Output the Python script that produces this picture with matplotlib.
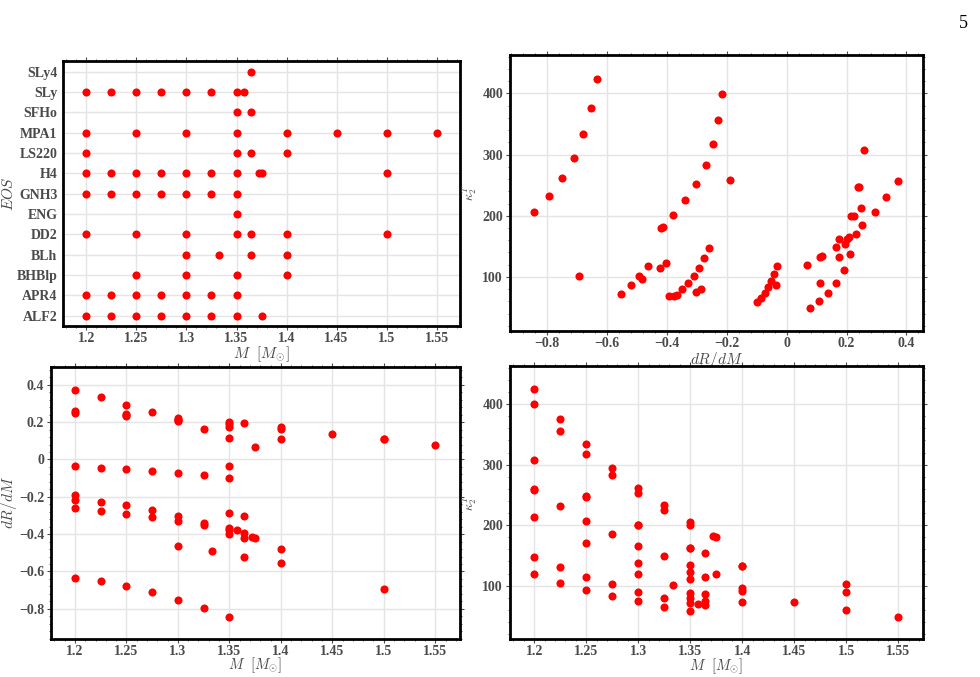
import numpy as np
import matplotlib
matplotlib.use("Agg")
import matplotlib.pyplot as plt
from matplotlib.ticker import AutoMinorLocator

plt.rcParams['font.family'] = ['Liberation Serif', 'DejaVu Serif']
plt.rcParams['mathtext.fontset'] = 'cm'

# EOS categories, bottom to top
eos_names = ['ALF2', 'APR4', 'BHBlp', 'BLh', 'DD2', 'ENG', 'GNH3',
             'H4', 'LS220', 'MPA1', 'SFHo', 'SLy', 'SLy4']

# one entry per simulation
run_eos = (['ALF2'] * 8 + ['APR4'] * 7 + ['BHBlp'] * 4 + ['BLh'] * 4 +
           ['DD2'] * 7 + ['ENG'] + ['GNH3'] * 7 + ['H4'] * 10 +
           ['LS220'] * 4 + ['MPA1'] * 8 + ['SFHo'] * 2 + ['SLy'] * 8 + ['SLy4'])

run_mass = [
    1.2, 1.225, 1.25, 1.275, 1.3, 1.325, 1.35, 1.375,            # ALF2
    1.2, 1.225, 1.25, 1.275, 1.3, 1.325, 1.35,                   # APR4
    1.25, 1.3, 1.35, 1.4,                                        # BHBlp
    1.3, 1.333, 1.364, 1.4,                                      # BLh
    1.2, 1.25, 1.3, 1.35, 1.364, 1.4, 1.5,                       # DD2
    1.35,                                                        # ENG
    1.2, 1.225, 1.25, 1.275, 1.3, 1.325, 1.35,                   # GNH3
    1.2, 1.225, 1.25, 1.275, 1.3, 1.325, 1.35, 1.372, 1.375, 1.5,  # H4
    1.2, 1.35, 1.364, 1.4,                                       # LS220
    1.2, 1.25, 1.3, 1.35, 1.4, 1.45, 1.5, 1.55,                  # MPA1
    1.35, 1.364,                                                 # SFHo
    1.2, 1.225, 1.25, 1.275, 1.3, 1.325, 1.35, 1.357,            # SLy
    1.364,                                                       # SLy4
]

run_drdm = [
    0.373, 0.333, 0.294, 0.252, 0.208, 0.163, 0.117, 0.069,
    -0.034, -0.043, -0.052, -0.062, -0.073, -0.085, -0.100,
    0.238, 0.214, 0.175, 0.111,
    -0.465, -0.492, -0.520, -0.555,
    0.258, 0.243, 0.223, 0.200, 0.195, 0.176, 0.112,
    -0.036,
    -0.635, -0.653, -0.679, -0.712, -0.751, -0.794, -0.843,
    -0.216, -0.228, -0.245, -0.271, -0.303, -0.339, -0.379, -0.415, -0.421, -0.695,
    -0.191, -0.402, -0.423, -0.482,
    0.248, 0.231, 0.211, 0.190, 0.165, 0.138, 0.109, 0.078,
    -0.288, -0.302,
    -0.260, -0.276, -0.292, -0.310, -0.329, -0.350, -0.368, -0.376,
    -0.394,
]

run_kappa = [
    257.6, 231, 207, 184.6, 166, 148.6, 134, 119.6,
    118.5, 105, 93, 83, 74, 65, 58.5,
    247, 200, 162, 132.7,
    118.5, 101, 86.9, 72.7,
    307, 247.8, 200, 162, 153.5, 132.7, 89.7,
    87.4,
    424.5, 376, 334, 294.7, 261, 232.5, 205.8,
    399.5, 356, 317, 283, 252.7, 225.4, 201, 182.3, 180.7, 102,
    259, 122.9, 114.7, 96,
    213, 171, 137.6, 111, 90.7, 73.8, 60, 49,
    80, 75,
    148, 131, 115, 102, 90, 80, 71, 69.5,
    68,
]

m_ticks = [1.2, 1.25, 1.3, 1.35, 1.4, 1.45, 1.5, 1.55]
m_ticklabels = ['1.2', '1.25', '1.3', '1.35', '1.4', '1.45', '1.5', '1.55']
drdm_ticks = [-0.8, -0.6, -0.4, -0.2, 0, 0.2, 0.4]
drdm_ticklabels = ['\u22120.8', '\u22120.6', '\u22120.4', '\u22120.2', '0', '0.2', '0.4']
kappa_ticks = [100, 200, 300, 400]

mass = np.array(run_mass)
drdm = np.array(run_drdm)
kappa = np.array(run_kappa)
eos_idx = np.array([eos_names.index(e) for e in run_eos])

GREY = '#4a4a4a'
label_font = dict(fontsize=11, color=GREY)


def style(ax):
    for sp in ax.spines.values():
        sp.set_linewidth(2.0)
        sp.set_color('black')
    ax.grid(True, color='#e4e4e4', linewidth=1.0)
    ax.set_axisbelow(True)
    ax.tick_params(which='major', direction='out', length=3, width=0.8,
                   colors=GREY, labelsize=10, pad=2, top=True, right=True)
    ax.tick_params(which='minor', direction='out', length=1.5, width=0.6,
                   colors=GREY, top=True, right=True)
    ax.tick_params(axis='x', which='major', pad=1.5)
    for lab in ax.get_xticklabels() + ax.get_yticklabels():
        lab.set_fontweight('bold')


def dots(ax, x, y):
    ax.scatter(x, y, s=34, color='#ff0000', linewidths=0, zorder=3)


fig = plt.figure(figsize=(9.8, 6.77), dpi=100)

# top left: EOS vs mass
ax1 = fig.add_axes([0.0643, 0.5185, 0.405, 0.3914])
dots(ax1, mass, eos_idx)
ax1.set_xlim(1.1766, 1.5733)
ax1.set_ylim(-0.51, 12.53)
ax1.set_xticks(m_ticks)
ax1.set_xticklabels(m_ticklabels)
ax1.set_yticks(range(len(eos_names)))
ax1.set_yticklabels(eos_names)
ax1.xaxis.set_minor_locator(AutoMinorLocator(5))
style(ax1)
ax1.tick_params(axis='y', which='major', length=0, pad=4)
ax1.set_xlabel(r'$M\ \ [M_{\odot}]$', labelpad=-0.5, **label_font)
ax1.set_ylabel(r'$EOS$', **label_font)
ax1.yaxis.set_label_coords(-0.118, 0.5)

# top right: kappa vs dR/dM
ax2 = fig.add_axes([0.5204, 0.5111, 0.4214, 0.4077])
dots(ax2, drdm, kappa)
ax2.set_xlim(-0.9245, 0.455)
ax2.set_ylim(11.6, 463)
ax2.set_xticks(drdm_ticks)
ax2.set_xticklabels(drdm_ticklabels)
ax2.set_yticks(kappa_ticks)
ax2.xaxis.set_minor_locator(AutoMinorLocator(5))
ax2.yaxis.set_minor_locator(AutoMinorLocator(5))
style(ax2)
ax2.set_xlabel(r'$dR/dM$', labelpad=-0.5, **label_font)
ax2.set_ylabel(r'$\kappa_2^T$', fontsize=9, color=GREY)
ax2.yaxis.set_label_coords(-0.075, 0.5)

# bottom left: dR/dM vs mass
ax3 = fig.add_axes([0.052, 0.0567, 0.4173, 0.4013])
dots(ax3, mass, drdm)
ax3.set_xlim(1.1767, 1.574)
ax3.set_ylim(-0.96, 0.496)
ax3.set_xticks(m_ticks)
ax3.set_xticklabels(m_ticklabels)
ax3.set_yticks(drdm_ticks)
ax3.set_yticklabels(drdm_ticklabels)
ax3.xaxis.set_minor_locator(AutoMinorLocator(5))
ax3.yaxis.set_minor_locator(AutoMinorLocator(5))
style(ax3)
ax3.set_xlabel(r'$M\ \ [M_{\odot}]$', labelpad=-1.5, fontsize=10.5, color=GREY)
ax3.set_ylabel(r'$dR/dM$', **label_font)
ax3.yaxis.set_label_coords(-0.078, 0.5)

# bottom right: kappa vs mass
ax4 = fig.add_axes([0.5204, 0.0562, 0.4214, 0.4032])
dots(ax4, mass, kappa)
ax4.set_xlim(1.1767, 1.5736)
ax4.set_ylim(12, 463)
ax4.set_xticks(m_ticks)
ax4.set_xticklabels(m_ticklabels)
ax4.set_yticks(kappa_ticks)
ax4.xaxis.set_minor_locator(AutoMinorLocator(5))
ax4.yaxis.set_minor_locator(AutoMinorLocator(5))
style(ax4)
ax4.set_xlabel(r'$M\ \ [M_{\odot}]$', labelpad=-1.5, fontsize=10.5, color=GREY)
ax4.set_ylabel(r'$\kappa_2^T$', fontsize=9, color=GREY)
ax4.yaxis.set_label_coords(-0.075, 0.5)

# page number
fig.text(0.988, 0.978, '5', ha='right', va='top', fontsize=13, color='black')

fig.savefig('out.png', dpi=100)
